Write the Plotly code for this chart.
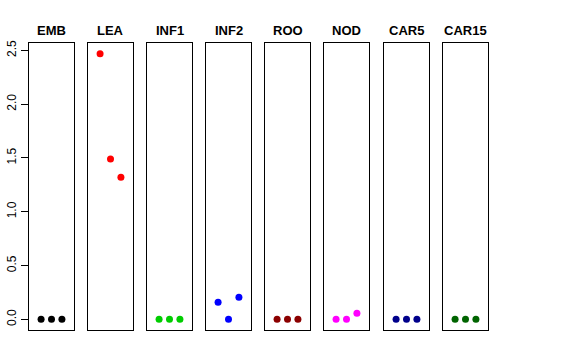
import plotly.graph_objects as go

tissues = ["EMB", "LEA", "INF1", "INF2", "ROO", "NOD", "CAR5", "CAR15"]
replicates = [1, 2, 3]
values = {
    "EMB": [0.0, 0.0, 0.0],
    "LEA": [2.47, 1.49, 1.32],
    "INF1": [0.0, 0.0, 0.0],
    "INF2": [0.16, 0.0, 0.205],
    "ROO": [0.0, 0.0, 0.0],
    "NOD": [0.0, 0.0, 0.058],
    "CAR5": [0.0, 0.0, 0.0],
    "CAR15": [0.0, 0.0, 0.0],
}
colors = ["#000000", "#FF0000", "#00CD00", "#0000FF", "#8B0000", "#FF00FF", "#00008B", "#006400"]
y_ticks = [0.0, 0.5, 1.0, 1.5, 2.0, 2.5]

W, H = 576, 360
panel_left = [29, 88, 147, 206, 265, 324, 384, 443]
panel_w = 45
top_px, bot_px = 43, 330

all_vals = [v for t in tissues for v in values[t]]
ymin, ymax = min(all_vals), max(all_vals)
pad = (ymax - ymin) * 0.04
yr = [ymin - pad, ymax + pad]
xr = [0 - 0.16, 4 + 0.16]

fig = go.Figure()
layout = dict(
    width=W, height=H, margin=dict(l=0, r=0, t=0, b=0, autoexpand=False),
    plot_bgcolor="white", paper_bgcolor="white", showlegend=False,
    font=dict(family="Liberation Sans, Arial, sans-serif", color="black"),
)
annotations = []
for i, t in enumerate(tissues):
    n = "" if i == 0 else str(i + 1)
    fig.add_trace(go.Scatter(
        x=replicates, y=values[t], mode="markers",
        marker=dict(color=colors[i], size=7, line=dict(width=0)),
        xaxis="x" + n, yaxis="y" + n,
    ))
    x0 = panel_left[i] / W
    x1 = (panel_left[i] + panel_w) / W
    layout["xaxis" + n] = dict(
        domain=[x0, x1], range=xr, showticklabels=False, ticks="",
        showgrid=False, zeroline=False, showline=True, linecolor="black",
        linewidth=1, mirror=True, anchor="y" + n,
    )
    yax = dict(
        domain=[1 - bot_px / H, 1 - top_px / H], range=yr,
        showgrid=False, zeroline=False, showline=True, linecolor="black",
        linewidth=1, mirror=True, anchor="x" + n,
    )
    if i == 0:
        yax.update(tickvals=y_ticks, ticktext=[f"{v:.1f}" for v in y_ticks],
                   ticks="outside", ticklen=7, tickcolor="black",
                   tickangle=-90, tickfont=dict(size=12))
    else:
        yax.update(showticklabels=False, ticks="")
    layout["yaxis" + n] = yax
    annotations.append(dict(
        text="<b>" + t + "</b>", x=(x0 + x1) / 2, y=1 - 30 / H,
        xref="paper", yref="paper", xanchor="center", yanchor="middle",
        showarrow=False, font=dict(size=13),
    ))
layout["annotations"] = annotations
fig.update_layout(**layout)
fig.write_html(
    "out.html",
    config={"displayModeBar": False},
    post_script="document.body.style.margin='0';document.body.style.overflow='hidden';",
)
